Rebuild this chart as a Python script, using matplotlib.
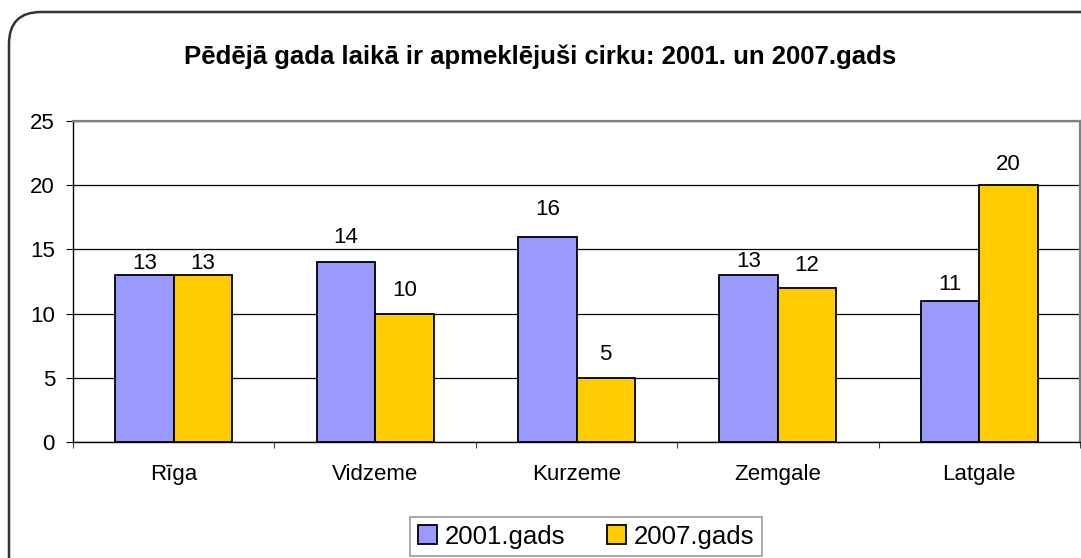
import matplotlib
matplotlib.use("Agg")
import matplotlib.pyplot as plt
from matplotlib.patches import FancyBboxPatch
from matplotlib.transforms import IdentityTransform
import numpy as np

plt.rcParams['font.family'] = ['Liberation Sans', 'DejaVu Sans']

regioni = ["Rīga", "Vidzeme", "Kurzeme", "Zemgale", "Latgale"]
gads_2001 = [13, 14, 16, 13, 11]
gads_2007 = [13, 10, 5, 12, 20]
serijas = ["2001.gads", "2007.gads"]
y_ticks = [0, 5, 10, 15, 20, 25]

# etiķešu atstarpe virs stabiņa (pikseļos), kā oriģinālā
atstarpe_2001 = [6, 19, 22, 8, 11]
atstarpe_2007 = [6, 18, 18, 17, 15]

fig = plt.figure(figsize=(10.81, 5.58), dpi=100)

# ramis ar noapaļotiem stūriem
ramis = FancyBboxPatch((9, -60), 1160, 546 + 60, boxstyle="round,pad=0,rounding_size=32",
                       transform=IdentityTransform(), facecolor="none",
                       edgecolor="#333333", linewidth=1.8, zorder=5)
fig.patches.append(ramis)

ax = fig.add_axes([73 / 1081, 116 / 558, 1007 / 1081, 321 / 558])
ax.set_facecolor("white")

x = np.arange(len(regioni))
w = 0.29
b1 = ax.bar(x - w / 2, gads_2001, w, color="#9999FF", edgecolor="black", linewidth=1.3, zorder=3, label=serijas[0])
b2 = ax.bar(x + w / 2, gads_2007, w, color="#FFCC00", edgecolor="black", linewidth=1.3, zorder=3, label=serijas[1])

for bars, offs in ((b1, atstarpe_2001), (b2, atstarpe_2007)):
    for r, off in zip(bars, offs):
        ax.annotate(str(int(r.get_height())), (r.get_x() + r.get_width() / 2, r.get_height()),
                    xytext=(0, off * 0.72), textcoords="offset points",
                    ha="center", va="baseline", fontsize=16)

ax.set_ylim(0, 25)
ax.set_xlim(-0.5, len(regioni) - 0.5)
ax.set_yticks(y_ticks)
ax.set_yticklabels([str(v) for v in y_ticks], fontsize=16)
ax.yaxis.grid(True, color="black", linewidth=0.9, zorder=0)
ax.set_axisbelow(True)

ax.set_xticks(np.arange(-0.5, len(regioni), 1.0))
ax.set_xticklabels([])
ax.set_xticks(x, minor=True)
ax.set_xticklabels(regioni, minor=True, fontsize=16)
ax.tick_params(axis="x", which="minor", length=0, pad=16)
ax.tick_params(axis="x", which="major", direction="out", length=4.5, color="#444444")
ax.tick_params(axis="y", direction="out", length=5, pad=8)

for s in ("left", "bottom"):
    ax.spines[s].set_color("black")
    ax.spines[s].set_linewidth(1.0)
for s in ("top", "right"):
    ax.spines[s].set_color("#808080")
    ax.spines[s].set_linewidth(1.6)

fig.text(0.5, 1 - 57 / 558, "Pēdējā gada laikā ir apmeklējuši cirku: 2001. un 2007.gads",
         ha="center", va="center", fontsize=18.5, fontweight="bold")

leg = fig.legend(handles=[b1, b2], labels=serijas, loc="upper center", ncol=2,
                 bbox_to_anchor=(586 / 1081, 1 - 517 / 558), borderaxespad=0, fontsize=18.5,
                 fancybox=False, frameon=True, edgecolor="#808080",
                 handlelength=0.75, handleheight=0.75, handletextpad=0.3,
                 columnspacing=1.6, borderpad=0.3)
leg.get_frame().set_linewidth(1.2)

fig.savefig("out.png", dpi=100)
